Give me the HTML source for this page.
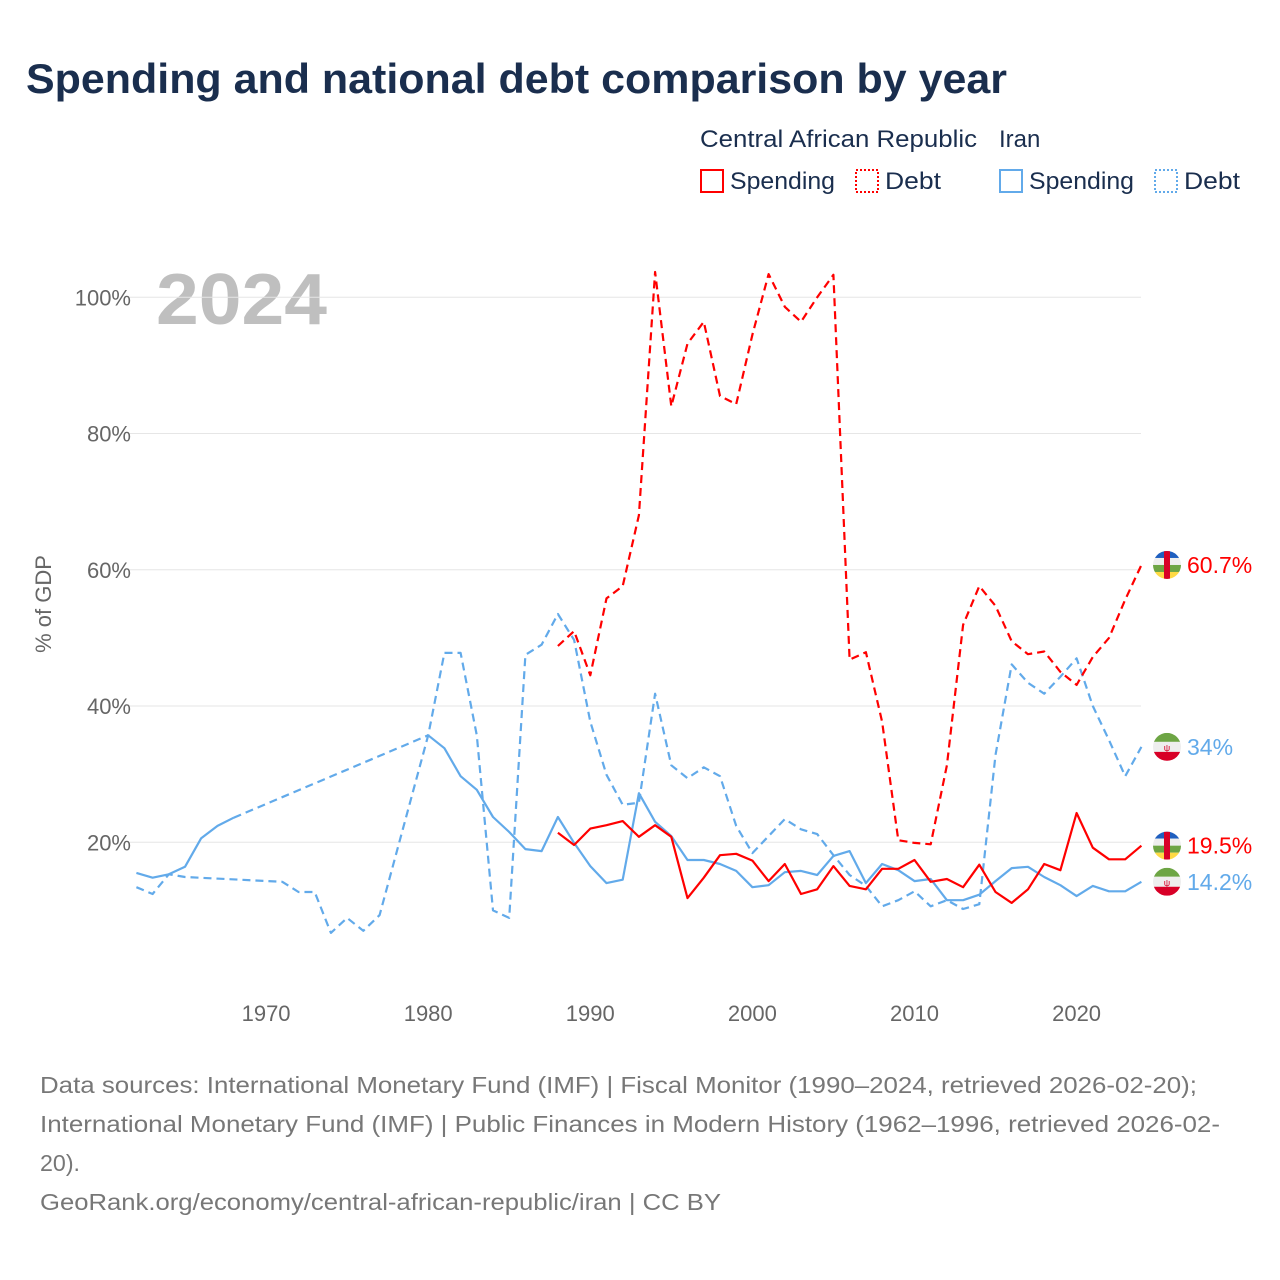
<!DOCTYPE html>
<html><head><meta charset="utf-8"><style>
body{margin:0;background:#fff;font-family:"Liberation Sans",sans-serif;}
</style></head><body>
<svg id="chart" width="1280" height="1280" xmlns="http://www.w3.org/2000/svg" style="display:block">
<defs>
<clipPath id="fc"><circle cx="0" cy="0" r="14"/></clipPath>
<g id="flag-car"><g clip-path="url(#fc)"><rect x="-14" y="-14" width="28" height="7" fill="#1f5fbf"/><rect x="-14" y="-7" width="28" height="7" fill="#eee"/><rect x="-14" y="0" width="28" height="7" fill="#6da544"/><rect x="-14" y="7" width="28" height="7" fill="#ffda44"/><rect x="-3" y="-14" width="6" height="28" fill="#d80027"/></g></g>
<g id="flag-iran"><g clip-path="url(#fc)"><rect x="-14" y="-14" width="28" height="9" fill="#6da544"/><rect x="-14" y="-5" width="28" height="10" fill="#eee"/><rect x="-14" y="5" width="28" height="9" fill="#d80027"/><text x="0" y="4" font-size="9" fill="#d80027" text-anchor="middle" font-family="Liberation Sans">ψ</text></g></g>
</defs>
<text x="26" y="93" font-size="42" font-weight="bold" fill="#1a2e4e" textLength="981" lengthAdjust="spacingAndGlyphs">Spending and national debt comparison by year</text>
<g font-size="24" fill="#1a2e4e">
<text x="700" y="147" textLength="277" lengthAdjust="spacingAndGlyphs">Central African Republic</text>
<text x="999" y="147">Iran</text>
<g><rect x="701" y="170" width="22" height="22" fill="none" stroke="#f00" stroke-width="2"/><text x="730" y="189" textLength="105" lengthAdjust="spacingAndGlyphs">Spending</text></g>
<g><rect x="856" y="170" width="22" height="22" fill="none" stroke="#f00" stroke-width="2" stroke-dasharray="2,2"/><text x="885" y="189" textLength="56" lengthAdjust="spacingAndGlyphs">Debt</text></g>
<g><rect x="1000" y="170" width="22" height="22" fill="none" stroke="#62aaea" stroke-width="2"/><text x="1029" y="189" textLength="105" lengthAdjust="spacingAndGlyphs">Spending</text></g>
<g><rect x="1155" y="170" width="22" height="22" fill="none" stroke="#62aaea" stroke-width="2" stroke-dasharray="2,2"/><text x="1184" y="189" textLength="56" lengthAdjust="spacingAndGlyphs">Debt</text></g>
</g>
<text x="156" y="324" font-size="72" font-weight="bold" fill="#bfbfbf" textLength="171" lengthAdjust="spacingAndGlyphs">2024</text>
<g id="grid"></g><g id="series"></g><g id="ends"></g>
<text transform="translate(51,604) rotate(-90)" font-size="22" fill="#666" text-anchor="middle">% of GDP</text>
<g font-size="23" fill="#777">
<text x="40" y="1093" textLength="1157" lengthAdjust="spacingAndGlyphs">Data sources: International Monetary Fund (IMF) | Fiscal Monitor (1990–2024, retrieved 2026-02-20);</text>
<text x="40" y="1132" textLength="1180" lengthAdjust="spacingAndGlyphs">International Monetary Fund (IMF) | Public Finances in Modern History (1962–1996, retrieved 2026-02-</text>
<text x="40" y="1171" textLength="40" lengthAdjust="spacingAndGlyphs">20).</text>
<text x="40" y="1210" textLength="681" lengthAdjust="spacingAndGlyphs">GeoRank.org/economy/central-african-republic/iran | CC BY</text>
</g>
</svg>
<script>
const yTicks=[20,40,60,80,100];
const xTicks=[1970,1980,1990,2000,2010,2020];
const iranSpendYears=[1962,1963,1964,1965,1966,1967,1968,1980,1981,1982,1983,1984,1985,1986,1987,1988,1989,1990,1991,1992,1993,1994,1995,1996,1997,1998,1999,2000,2001,2002,2003,2004,2005,2006,2007,2008,2009,2010,2011,2012,2013,2014,2015,2016,2017,2018,2019,2020,2021,2022,2023,2024];
const iranSpend=[15.5,14.8,15.3,16.4,20.6,22.4,23.6,35.7,33.8,29.7,27.7,23.7,21.5,19.0,18.7,23.7,19.9,16.5,14.0,14.5,27.2,23.0,20.9,17.4,17.4,16.8,15.8,13.4,13.7,15.6,15.8,15.2,18.0,18.7,14.0,16.8,15.9,14.3,14.6,11.5,11.5,12.3,14.3,16.2,16.4,14.9,13.7,12.1,13.6,12.8,12.8,14.2];
const iranDebtYears=[1962,1963,1964,1965,1971,1972,1973,1974,1975,1976,1977,1980,1981,1982,1983,1984,1985,1986,1987,1988,1989,1990,1991,1992,1993,1994,1995,1996,1997,1998,1999,2000,2001,2002,2003,2004,2005,2006,2007,2008,2009,2010,2011,2012,2013,2014,2015,2016,2017,2018,2019,2020,2021,2022,2023,2024];
const iranDebt=[13.4,12.4,15.3,14.9,14.2,12.7,12.7,6.7,8.9,7.0,9.3,35.7,47.8,47.8,35.7,10.0,8.9,47.5,49.0,53.5,49.7,37.7,29.9,25.5,25.8,41.8,31.3,29.4,31.0,29.7,22.4,18.4,20.9,23.4,21.9,21.2,18.1,15.2,13.6,10.6,11.5,12.8,10.6,11.5,10.2,10.9,32.8,46.1,43.4,41.8,44.3,47.0,40.0,35.0,29.7,34.0];
const carYears=[1988,1989,1990,1991,1992,1993,1994,1995,1996,1997,1998,1999,2000,2001,2002,2003,2004,2005,2006,2007,2008,2009,2010,2011,2012,2013,2014,2015,2016,2017,2018,2019,2020,2021,2022,2023,2024];
const carSpend=[21.4,19.6,22.0,22.5,23.1,20.8,22.5,20.8,11.8,14.8,18.1,18.3,17.3,14.3,16.8,12.4,13.1,16.5,13.6,13.1,16.1,16.1,17.4,14.2,14.6,13.4,16.7,12.7,11.1,13.1,16.8,15.9,24.3,19.2,17.5,17.5,19.5];
const carDebt=[48.8,51.0,44.5,55.8,57.6,68.0,103.7,84.0,93.2,96.4,85.5,84.3,94.5,103.4,98.6,96.4,100.0,103.3,46.8,47.9,37.7,20.3,19.9,19.7,31.3,51.9,57.6,54.7,49.5,47.6,48.0,45.0,43.1,47.2,50.0,55.6,60.7];
const endLabels=["60.7%","34%","19.5%","14.2%"];

const NS="http://www.w3.org/2000/svg";
const X=y=>136.4+(y-1962)*16.21;
const Y=v=>978.5-v*6.8125;
function mk(t,a,p){const e=document.createElementNS(NS,t);for(const k in a)e.setAttribute(k,a[k]);p.appendChild(e);return e;}
const grid=document.getElementById('grid');
yTicks.forEach(t=>{
 const l=mk('line',{x1:130,x2:1141,y1:Y(t),y2:Y(t),stroke:'#e6e6e6','stroke-width':1},grid);
 
 
 const tx=mk('text',{x:131,y:Y(t)+8,'font-size':22,fill:'#666','text-anchor':'end'},grid);
 tx.textContent=t+'%';
 
 
});
xTicks.forEach(t=>{
 const tx=mk('text',{x:X(t),y:1021,'font-size':22,fill:'#666','text-anchor':'middle'},grid);
 tx.textContent=t;
 
 
});
const sg=document.getElementById('series');
function draw(years,vals,color,dash,name){
 let segs=[],cur=[];
 for(let i=0;i<years.length;i++){
  if(i>0&&years[i]-years[i-1]>1){
   if(!dash){segs.push(cur);cur=[];
    const b=mk('line',{x1:X(years[i-1]),y1:Y(vals[i-1]),x2:X(years[i]),y2:Y(vals[i]),stroke:color,'stroke-width':2.2,'stroke-dasharray':'8,5',fill:'none'},sg);
    
    
   }
  }
  cur.push(X(years[i]).toFixed(1)+','+Y(vals[i]).toFixed(1));
 }
 segs.push(cur);
 segs.forEach(s=>{
  const p=mk('polyline',{points:s.join(' '),stroke:color,'stroke-width':2.2,fill:'none','stroke-dasharray':dash?'8,5':'none','stroke-linejoin':'round'},sg);
  
  
 });
}
draw(iranDebtYears,iranDebt,'#62aaea',true,'iran-debt-line');
draw(iranSpendYears,iranSpend,'#62aaea',false,'iran-spending-line');
draw(carYears,carDebt,'#ff0000',true,'car-debt-line');
draw(carYears,carSpend,'#ff0000',false,'car-spending-line');
const ends=document.getElementById('ends');
const endDefs=[[carDebt[carDebt.length-1],'#flag-car','#ff0000','car-debt-end-label'],[iranDebt[iranDebt.length-1],'#flag-iran','#62aaea','iran-debt-end-label'],[carSpend[carSpend.length-1],'#flag-car','#ff0000','car-spending-end-label'],[iranSpend[iranSpend.length-1],'#flag-iran','#62aaea','iran-spending-end-label']];
endDefs.forEach((d,i)=>{
 const y=Y(d[0]);
 const u=mk('use',{href:d[1],x:1167,y:y},ends);
 
 
 const t=mk('text',{x:1187,y:y+8,'font-size':23,fill:d[2]},ends);
 t.textContent=endLabels[i];
 
 
});
</script>
</body></html>
